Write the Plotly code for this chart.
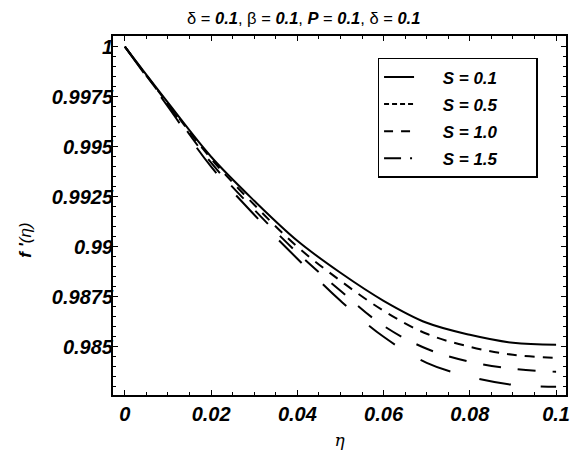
import plotly.graph_objects as go

eta = [0.0, 0.01, 0.02, 0.03, 0.04, 0.05, 0.06, 0.07, 0.08, 0.09, 0.10]
s_labels = ["S = 0.1", "S = 0.5", "S = 1.0", "S = 1.5"]
f_s01 = [1.0, 0.9972, 0.9945, 0.9923, 0.9903, 0.9887, 0.9873, 0.9862, 0.9856, 0.9852, 0.9851]
f_s05 = [1.0, 0.99715, 0.9944, 0.9921, 0.9900, 0.9883, 0.9868, 0.98565, 0.9850, 0.9846, 0.98445]
f_s10 = [1.0, 0.9971, 0.9942, 0.99185, 0.9897, 0.9878, 0.98605, 0.9849, 0.98425, 0.9839, 0.98375]
f_s15 = [1.0, 0.9970, 0.9940, 0.9916, 0.9894, 0.9873, 0.9855, 0.9842, 0.9835, 0.9831, 0.9830]
series = [f_s01, f_s05, f_s10, f_s15]
curve_dashes = ["solid", "10px,8px", "18px,17px", "32px,30px"]
legend_dashes = ["solid", "5px,3px", "9px,8px", "17px,9px,2px,10px"]

xticks = [0, 0.02, 0.04, 0.06, 0.08, 0.1]
xticktext = ["0", "0.02", "0.04", "0.06", "0.08", "0.1"]
yticks = [0.985, 0.9875, 0.99, 0.9925, 0.995, 0.9975, 1.0]
yticktext = ["0.985", "0.9875", "0.99", "0.9925", "0.995", "0.9975", "1"]

FONT = "Liberation Sans, Arial, sans-serif"

fig = go.Figure()
for i, (ys, d) in enumerate(zip(series, curve_dashes)):
    fig.add_trace(go.Scatter(
        x=eta, y=ys, mode="lines", showlegend=False,
        line=dict(color="black", width=2, dash=d, shape="spline", smoothing=1.0),
    ))
for i, (lab, d) in enumerate(zip(s_labels, legend_dashes)):
    fig.add_trace(go.Scatter(
        x=[None], y=[None], mode="lines",
        name="&nbsp;&nbsp;&nbsp;&nbsp;&nbsp;<b><i>" + lab + "</i></b>&nbsp;&nbsp;&nbsp;&nbsp;&nbsp;&nbsp;&nbsp;",
        line=dict(color="black", width=2, dash=d),
        legendgroup="g%d" % i,
    ))

axis_common = dict(
    showline=True, linecolor="black", linewidth=2, mirror="ticks",
    ticks="inside", ticklen=5, tickcolor="black", tickwidth=1,
    showgrid=False, zeroline=False,
    tickfont=dict(family=FONT, size=20, color="black", weight="bold", style="italic"),
)

fig.update_xaxes(
    range=[-0.00275, 0.1023], tickvals=xticks, ticktext=xticktext,
    minor=dict(dtick=0.005, tick0=0, ticks="inside", ticklen=3, tickcolor="black"),
    title=dict(text="<i>η</i>", font=dict(family="DejaVu Serif", size=17, color="black"), standoff=10),
    **axis_common,
)
fig.update_yaxes(
    range=[0.98259, 1.000535], tickvals=yticks, ticktext=yticktext,
    minor=dict(dtick=0.0005, tick0=0.985, ticks="inside", ticklen=3, tickcolor="black"),
    ticklabelstandoff=-6,
    **axis_common,
)

fig.add_annotation(
    text="<b><i>f '</i></b><i>(η)</i>", xref="paper", yref="paper",
    x=-0.1926, y=0.432, xanchor="center", yanchor="middle", textangle=-90,
    showarrow=False, font=dict(family=FONT, size=17, color="black"),
)

fig.update_layout(
    width=573, height=453,
    margin=dict(l=113, r=3, t=36, b=58),
    paper_bgcolor="white", plot_bgcolor="white",
    title=dict(
        text="δ = <b><i>0.1</i></b>, β = <b><i>0.1</i></b>, <b><i>P</i></b> = <b><i>0.1</i></b>, δ = <b><i>0.1</i></b>",
        font=dict(family=FONT, size=16.5, color="black"),
        x=0.53, xanchor="center", y=0.96, yanchor="middle",
    ),
    legend=dict(
        x=0.584, y=0.939, xanchor="left", yanchor="top",
        bordercolor="black", borderwidth=1.5, bgcolor="white",
        font=dict(family=FONT, size=17, color="black"),
        tracegroupgap=2,
    ),
    showlegend=True,
)

fig.write_html("out.html")
